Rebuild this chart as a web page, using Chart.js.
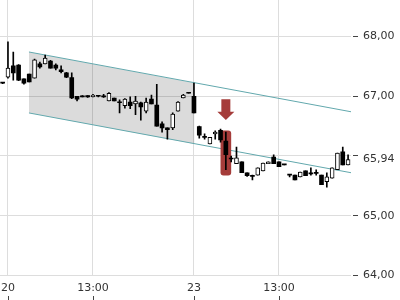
<!DOCTYPE html>
<html>
<head>
<meta charset="utf-8">
<script src="https://cdn.jsdelivr.net/npm/chart.js@4/dist/chart.umd.min.js"></script>
<style>
    body { margin: 0; background: #ffffff; }
    #chart-div { width: 400px; height: 300px; }
</style>
</head>
<body>
<div id="chart-div"><canvas id="myChart"></canvas></div>
<script>
// Candle data, 15 minute bars (index 0 = 20th 09:00, index 35 = 23rd 09:00)
const candleIndex = [-1, 0, 1, 2, 3, 4, 5, 6, 7, 8, 9, 10, 11, 12, 13, 14, 15, 16, 17, 18, 19,
    20, 21, 22, 23, 24, 25, 26, 27, 28, 29, 30, 31, 32, 33, 34, 35, 36, 37, 38, 39, 40, 41, 42,
    43, 44, 45, 46, 47, 48, 49, 50, 51, 52, 53, 54, 55, 56, 57, 58, 59, 60, 61, 62, 63, 64]
const openPrices = [67.22, 67.32, 67.51, 67.52, 67.29, 67.37, 67.30, 67.54, 67.54, 67.59, 67.52,
    67.44, 67.39, 67.31, 67.00, 67.00, 67.01, 66.99, 67.00, 66.99, 66.92, 66.97, 66.90, 66.84,
    66.90, 66.87, 66.89, 66.75, 66.95, 66.85, 66.54, 66.47, 66.47, 66.75, 66.97, 67.05, 67.00,
    66.49, 66.33, 66.20, 66.37, 66.43, 66.25, 65.96, 65.87, 65.90, 65.72, 65.66, 65.68, 65.75,
    65.87, 65.98, 65.90, 65.85, 65.68, 65.68, 65.65, 65.75, 65.70, 65.72, 65.68, 65.57, 65.63,
    65.77, 66.07, 65.85]
const highPrices = [67.23, 67.91, 67.74, 67.53, 67.29, 67.37, 67.62, 67.57, 67.69, 67.60, 67.54,
    67.51, 67.40, 67.39, 67.00, 67.01, 67.01, 67.03, 67.01, 67.03, 67.06, 66.97, 66.94, 66.96,
    66.99, 67.00, 66.90, 66.97, 67.02, 67.20, 66.57, 66.47, 66.72, 66.91, 67.03, 67.06, 67.22,
    66.50, 66.37, 66.31, 66.42, 66.45, 66.40, 66.00, 66.15, 65.90, 65.72, 65.68, 65.80, 65.88,
    65.90, 66.02, 65.90, 65.85, 65.68, 65.68, 65.73, 65.75, 65.80, 65.77, 65.68, 65.72, 65.80,
    66.05, 66.15, 66.02]
const lowPrices = [67.21, 67.30, 67.27, 67.26, 67.20, 67.24, 67.30, 67.47, 67.54, 67.47, 67.44,
    67.39, 67.31, 66.96, 66.92, 66.99, 66.98, 66.99, 66.99, 66.98, 66.92, 66.92, 66.72, 66.80,
    66.79, 66.69, 66.60, 66.72, 66.87, 66.50, 66.40, 66.28, 66.44, 66.75, 66.97, 67.05, 66.72,
    66.30, 66.28, 66.20, 66.28, 66.23, 65.77, 65.90, 65.87, 65.72, 65.66, 65.60, 65.68, 65.75,
    65.87, 65.87, 65.82, 65.85, 65.65, 65.60, 65.65, 65.67, 65.68, 65.68, 65.52, 65.48, 65.63,
    65.77, 65.85, 65.85]
const closePrices = [67.22, 67.47, 67.39, 67.27, 67.22, 67.24, 67.61, 67.49, 67.64, 67.47, 67.47,
    67.41, 67.32, 66.97, 66.95, 66.99, 66.99, 67.02, 67.00, 66.99, 67.05, 66.92, 66.89, 66.95,
    66.84, 66.92, 66.82, 66.90, 66.87, 66.50, 66.47, 66.44, 66.70, 66.90, 67.02, 67.05, 66.72,
    66.35, 66.31, 66.31, 66.40, 66.27, 66.02, 65.95, 65.97, 65.72, 65.67, 65.66, 65.80, 65.88,
    65.90, 65.87, 65.82, 65.85, 65.68, 65.60, 65.73, 65.67, 65.70, 65.71, 65.52, 65.65, 65.80,
    66.05, 65.85, 65.94]

// Trend channel
const channelIndex = [3.95, 64.55]
const channelUpper = [67.74, 66.74]
const channelLower = [66.72, 65.72]
const shadedIndex = [3.95, 35.1]
const shadedUpper = [67.74, 67.22]
const shadedLower = [66.72, 66.20]

// Marked candle and arrow above it (top, neck, tip)
const highlightIndex = [41]
const highlightRange = [[65.68, 66.42]]
const arrowIndex = 41
const arrowPrices = [66.95, 66.74, 66.60]

// Axis ticks
const xTickIndex = [0, 16, 35, 51]
const xTickLabels = ['20', '13:00', '23', '13:00']
const yTickValues = [64, 65, 65.94, 66, 67, 68]
const lastPrice = 65.94

const gridColor = '#dddddd'
const textColor = '#333333'
const markColor = '#a53c3a'
const channelColor = '#62a8ad'

function toPoints(xs, ys){
    let points = []
    for (let i=0; i<xs.length; i++){
        points.push({x: xs[i], y: ys[i]})
    }
    return points
}

// Red arrow pointing at the marked candle
const arrowPlugin = {
    id: 'arrow',
    afterDatasetsDraw(chart){
        const ctx = chart.ctx
        const cx = chart.scales.x.getPixelForValue(arrowIndex)
        const top = chart.scales.y.getPixelForValue(arrowPrices[0])
        const neck = chart.scales.y.getPixelForValue(arrowPrices[1])
        const tip = chart.scales.y.getPixelForValue(arrowPrices[2])
        ctx.save()
        ctx.fillStyle = markColor
        ctx.beginPath()
        ctx.moveTo(cx - 4.5, top)
        ctx.lineTo(cx + 4.5, top)
        ctx.lineTo(cx + 4.5, neck)
        ctx.lineTo(cx + 8.5, neck)
        ctx.lineTo(cx, tip)
        ctx.lineTo(cx - 8.5, neck)
        ctx.lineTo(cx - 4.5, neck)
        ctx.closePath()
        ctx.fill()
        ctx.restore()
    }
}

// Small tick marks under the time labels
const timeTickPlugin = {
    id: 'timeTicks',
    afterDraw(chart){
        const ctx = chart.ctx
        const bottom = chart.chartArea.bottom
        ctx.save()
        ctx.strokeStyle = '#444444'
        ctx.lineWidth = 1
        for (let i=0; i<xTickIndex.length; i++){
            let px = Math.round(chart.scales.x.getPixelForValue(xTickIndex[i])) + 0.5
            ctx.beginPath()
            ctx.moveTo(px, bottom + 20.5)
            ctx.lineTo(px, bottom + 24.5)
            ctx.stroke()
        }
        ctx.restore()
    }
}

const wicks = []
const bodies = []
for (let i=0; i<candleIndex.length; i++){
    wicks.push({x: candleIndex[i], y: [lowPrices[i], highPrices[i]]})
    bodies.push({x: candleIndex[i], y: [openPrices[i], closePrices[i]]})
}

function isUp(ctx){
    let i = ctx.dataIndex
    return closePrices[i] > openPrices[i]
}

const data = {
    datasets: [
        {
            type: 'line',
            data: toPoints(shadedIndex, shadedUpper),
            borderWidth: 0,
            pointRadius: 0,
            fill: false,
            order: 6
        },
        {
            type: 'line',
            data: toPoints(shadedIndex, shadedLower),
            borderWidth: 0,
            pointRadius: 0,
            fill: '-1',
            backgroundColor: 'rgba(0,0,0,0.14)',
            order: 5
        },
        {
            type: 'line',
            data: toPoints(channelIndex, channelUpper),
            borderColor: channelColor,
            borderWidth: 1,
            pointRadius: 0,
            fill: false,
            order: 4
        },
        {
            type: 'line',
            data: toPoints(channelIndex, channelLower),
            borderColor: channelColor,
            borderWidth: 1,
            pointRadius: 0,
            fill: false,
            order: 4
        },
        {
            type: 'bar',
            data: toPoints(highlightIndex, highlightRange),
            backgroundColor: markColor,
            barThickness: 10,
            borderRadius: 3,
            borderSkipped: false,
            grouped: false,
            order: 3
        },
        {
            type: 'bar',
            data: wicks,
            backgroundColor: '#000000',
            barThickness: 1,
            grouped: false,
            order: 2
        },
        {
            type: 'bar',
            data: bodies,
            backgroundColor: ctx => isUp(ctx) ? '#ffffff' : '#000000',
            borderColor: '#000000',
            borderWidth: ctx => isUp(ctx) ? 1 : 0,
            borderSkipped: false,
            barThickness: 4,
            minBarLength: 1,
            grouped: false,
            order: 1
        }
    ]
}

const tickFont = { family: 'DejaVu Sans', size: 11 }

const config = {
    type: 'bar',
    data: data,
    options: {
        responsive: true,
        maintainAspectRatio: false,
        animation: false,
        events: [],
        layout: { padding: 0 },
        plugins: {
            legend: { display: false },
            tooltip: { enabled: false }
        },
        scales: {
            x: {
                type: 'linear',
                min: -1.5,
                max: 64.55,
                offset: false,
                afterBuildTicks: scale => { scale.ticks = xTickIndex.map(v => ({value: v})) },
                afterFit: scale => {
                    scale.height = 24.5
                    scale.paddingLeft = 0
                    scale.paddingRight = 0
                },
                grid: { color: gridColor, drawTicks: false, offset: false },
                border: { display: false },
                ticks: {
                    autoSkip: false,
                    maxRotation: 0,
                    padding: 6,
                    color: textColor,
                    font: tickFont,
                    callback: (value, index) => xTickLabels[index]
                }
            },
            y: {
                position: 'right',
                min: 64,
                max: 68.61,
                bounds: 'data',
                afterBuildTicks: scale => { scale.ticks = yTickValues.map(v => ({value: v})) },
                afterFit: scale => {
                    scale.width = 49
                    scale.paddingTop = 0
                    scale.paddingBottom = 0
                },
                grid: {
                    color: ctx => ctx.tick && ctx.tick.value === lastPrice ? 'rgba(0,0,0,0)' : gridColor,
                    tickColor: ctx => ctx.tick && ctx.tick.value === lastPrice ? 'rgba(0,0,0,0)' : '#444444',
                    tickLength: 8,
                    tickBorderDash: [0, 2, 5, 100]
                },
                border: { display: false },
                ticks: {
                    autoSkip: false,
                    padding: 4,
                    color: textColor,
                    font: tickFont,
                    callback: value => value === 66 ? '' : value.toFixed(2).replace('.', ',')
                }
            }
        }
    },
    plugins: [arrowPlugin, timeTickPlugin]
}

// Main
document.addEventListener("DOMContentLoaded", function(){
    new Chart(document.getElementById('myChart'), config)
})
</script>
</body>
</html>
